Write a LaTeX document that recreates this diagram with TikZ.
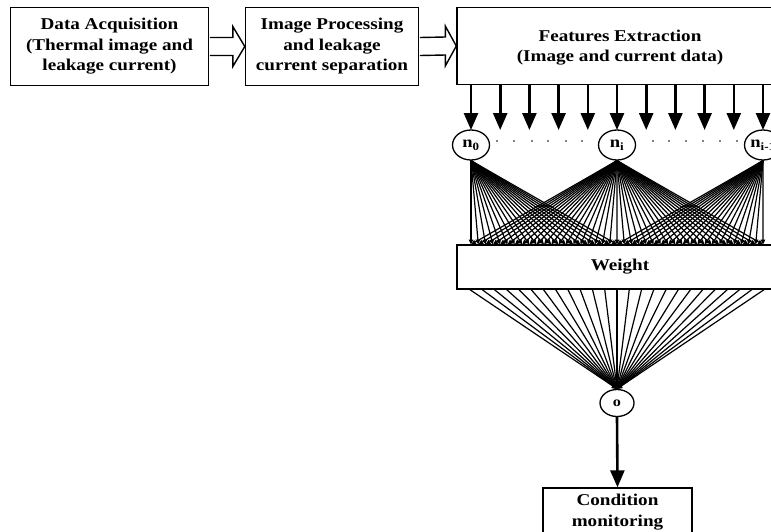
\documentclass[tikz,border=0pt]{standalone}
\usepackage{fontspec}
\setmainfont[FakeStretch=1.16]{Liberation Serif}
\usetikzlibrary{arrows.meta,shapes.geometric,calc}
\begin{document}
\begin{tikzpicture}[x=1pt,y=-1pt,
  box/.style={draw,line width=1.4pt,fill=white,font=\bfseries\fontsize{16.5}{20.5}\selectfont,align=center,inner sep=0pt},
  neuron/.style={draw,ellipse,line width=1.3pt,fill=white,minimum width=37pt,minimum height=30pt,inner sep=0pt,font=\bfseries\fontsize{16}{18}\selectfont},
  hollow/.style={draw,line width=1.4pt,fill=white,line join=miter},
  bigarrow/.style={line width=2.6pt,-{Triangle[width=14pt,length=17pt]}},
  fanline/.style={line width=1.2pt,-{Triangle[width=4.5pt,length=5pt]}},
  dotmark/.style={fill=black}
]
\useasboundingbox (0,0) rectangle (771,531);
\clip (0,0) rectangle (771,531);

% top row boxes
\node[box,minimum width=198pt,minimum height=78pt] (b1) at (109.5,46.5) {Data Acquisition\\(Thermal image and\\leakage current)};
\node[box,minimum width=173pt,minimum height=78pt] (b2) at (332,46.5) {Image Processing\\and leakage\\current separation};
\node[box,minimum width=326pt,minimum height=77pt,text depth=0pt] (fe) at (620,46) {Features Extraction\\(Image and current data)};

% hollow arrows
\draw[hollow] ($(b1.east)+(0.7,-9)$) -- ($(b2.west)+(-12,-9)$) -- ($(b2.west)+(-12,-20)$) -- (b2.west) -- ($(b2.west)+(-12,20)$) -- ($(b2.west)+(-12,9)$) -- ($(b1.east)+(0.7,9)$);
\draw[hollow] ($(b2.east)+(0.7,-9)$) -- ($(fe.west)+(-11,-9)$) -- ($(fe.west)+(-11,-20)$) -- (fe.west) -- ($(fe.west)+(-11,20)$) -- ($(fe.west)+(-11,9)$) -- ($(b2.east)+(0.7,9)$);

% neurons
\node[neuron] (n0) at (471,145) {n\textsubscript{0}};
\node[neuron] (ni) at (617,145) {n\textsubscript{i}};
\node[neuron] (nl) at (763,145) {n\textsubscript{i-1}};

% down arrows from feature extraction
\foreach \k in {0,...,10} {
  \coordinate (t\k) at ({471+29.2*\k},130);
  \draw[bigarrow] (fe.south -| t\k) -- (t\k);
}

% dots
\foreach \x in {497,514,532,548,566,582,653,669,686,703,720,737}
  \fill[dotmark] (\x,141) circle (0.9);

% weight box
\node[box,minimum width=326pt,minimum height=44pt] (w) at (620,267) {Weight};

% upper fans
\foreach \j in {0,...,40}
  \coordinate (e\j) at ({471+7.3*\j},244.5);
\foreach \j in {0,...,20}
  \draw[fanline] (n0.south) -- (e\j);
\foreach \j in {0,...,40}
  \draw[fanline] (ni.south) -- (e\j);
\foreach \j in {20,...,40}
  \draw[fanline] (nl.south) -- (e\j);

% output neuron
\node[neuron,minimum width=34pt,minimum height=27pt,font=\bfseries\fontsize{14}{15}\selectfont] (o) at (617,403) {o};

% lower fan
\foreach \j in {0,...,24} {
  \coordinate (v\j) at ({470+12.25*\j},289.7);
  \draw[fanline] (v\j) -- (o.north);
}

% condition monitoring
\node[box,minimum width=149pt,minimum height=48pt] (cm) at (617.5,512) {Condition\\monitoring};
\draw[bigarrow] (o.south) -- (cm.north);
\end{tikzpicture}
\end{document}
